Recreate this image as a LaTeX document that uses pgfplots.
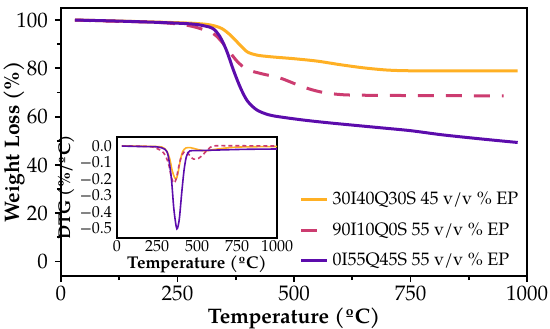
\documentclass[border=0pt]{standalone}
\usepackage{fontspec}
\setmainfont{TeX Gyre Pagella}
\usepackage{pgfplots}
\pgfplotsset{compat=1.18}
\definecolor{corange}{RGB}{255,176,36}
\definecolor{cpink}{RGB}{204,60,112}
\definecolor{cpurple}{RGB}{92,12,172}
\begin{document}
\begin{tikzpicture}
\useasboundingbox (-30.5pt,-26pt) rectangle (244.5pt,138pt);
\begin{axis}[
  at={(0pt,0pt)}, anchor=south west,
  scale only axis, width=233pt, height=134pt,
  xmin=0, xmax=1000, ymin=-6, ymax=105,
  xtick={0,250,500,750,1000}, ytick={0,20,40,60,80,100},
  minor x tick num=1, minor y tick num=1,
  tick align=outside, xtick pos=bottom, ytick pos=left,
  major tick length=3pt, minor tick length=2pt,
  every tick/.style={black, line width=0.9pt},
  axis line style={black, line width=1.3pt},
  /pgf/number format/assume math mode=true,
  /pgf/number format/1000 sep={},
  tick label style={font=\fontsize{10.5}{12}\selectfont},
  xticklabel style={yshift=1.5pt},
  xlabel={\textbf{Temperature (ºC)}},
  ylabel={\textbf{Weight Loss (\%)}},
  label style={font=\fontsize{10.5}{12}\selectfont},
  xlabel style={at={(axis description cs:0.5,-0.157)}, anchor=center},
  ylabel style={at={(axis description cs:-0.1,0.5)}, anchor=center},
  legend style={draw=none, fill=none, at={(0.995,0.003)}, anchor=south east,
    font=\fontsize{9}{10.5}\selectfont, row sep=3.5pt, inner sep=1pt},
  legend cell align=left,
  legend image code/.code={\draw[#1] (0pt,0pt) -- (13pt,0pt);},
]
\addplot[corange, line width=1.5pt, smooth] coordinates {
(30,100) (100,99.7) (200,99.2) (280,98.7) (320,98) (345,96.5) (365,93.5) (385,89.5)
(400,86.8) (420,85.5) (450,84.8) (500,84) (550,83) (600,81.5) (650,80.2) (700,79.3)
(750,79) (850,79) (980,79)};
\addlegendentry{30I40Q30S 45 v/v \% EP}
\addplot[cpink, line width=1.5pt, dash pattern=on 8pt off 6pt, smooth] coordinates {
(30,100) (100,99.6) (200,99.1) (255,98.3) (290,97) (326,94.5) (345,91) (363,86.5)
(380,82.5) (400,79.5) (430,77.8) (470,76) (510,73) (541,71) (570,69.8) (613,69)
(700,68.8) (800,68.7) (950,68.6)};
\addlegendentry{90I10Q0S 55 v/v \% EP}
\addplot[cpurple, line width=1.5pt, smooth] coordinates {
(30,100) (100,99.7) (200,99.1) (280,98.4) (310,97.5) (326,96.5) (340,93.5) (355,87.5)
(370,79.3) (385,72) (400,66.5) (420,62.8) (445,60.8) (470,59.9) (520,58.6) (577,57.4)
(680,55.5) (750,54.2) (817,52.5) (900,50.8) (980,49.3)};
\addlegendentry{0I55Q45S 55 v/v \% EP}
\end{axis}
\begin{axis}[
  at={(28pt,19pt)}, anchor=south west,
  scale only axis, width=80pt, height=50.5pt,
  xmin=0, xmax=1000, ymin=-0.56, ymax=0.055,
  xtick={0,250,500,750,1000},
  ytick={-0.5,-0.4,-0.3,-0.2,-0.1,0},
  yticklabels={−0.5,−0.4,−0.3,−0.2,−0.1,0.0},
  major tick length=0pt,
  axis line style={black, line width=0.9pt},
  axis background/.style={fill=white},
  /pgf/number format/assume math mode=true,
  /pgf/number format/1000 sep={},
  tick label style={font=\fontsize{8}{9}\selectfont},
  xticklabel style={yshift=2.5pt},
  yticklabel style={xshift=1pt},
  xlabel={\textbf{Temperature (ºC)}},
  ylabel={\textbf{DTG (\%/ºC)}},
  label style={font=\fontsize{8.5}{10}\selectfont},
  xlabel style={at={(axis description cs:0.5,-0.265)}, anchor=center},
  ylabel style={at={(axis description cs:-0.32,0.5)}, anchor=center},
]
\addplot[corange, line width=0.8pt, smooth] coordinates {
(30,0) (100,0) (200,-0.002) (280,-0.006) (310,-0.03) (330,-0.08) (345,-0.15) (360,-0.192)
(370,-0.2) (380,-0.17) (395,-0.09) (410,-0.035) (430,-0.012) (460,-0.01) (500,-0.02)
(550,-0.03) (600,-0.022) (700,-0.01) (800,-0.005) (1000,-0.003)};
\addplot[cpink, line width=0.8pt, dash pattern=on 2pt off 1.5pt, smooth] coordinates {
(30,0) (200,-0.003) (250,-0.015) (290,-0.04) (320,-0.1) (340,-0.19) (355,-0.225)
(370,-0.2) (385,-0.13) (400,-0.07) (420,-0.035) (440,-0.04) (460,-0.065) (480,-0.08)
(510,-0.075) (540,-0.05) (570,-0.02) (600,0) (700,0.002) (1000,0)};
\addplot[cpurple, line width=0.8pt, smooth] coordinates {
(30,0) (150,-0.003) (250,-0.005) (300,-0.02) (320,-0.06) (340,-0.2) (355,-0.38)
(370,-0.49) (378,-0.5) (390,-0.44) (405,-0.28) (420,-0.14) (435,-0.06) (455,-0.03)
(500,-0.028) (600,-0.025) (800,-0.02) (1000,-0.018)};
\end{axis}
\end{tikzpicture}
\end{document}
